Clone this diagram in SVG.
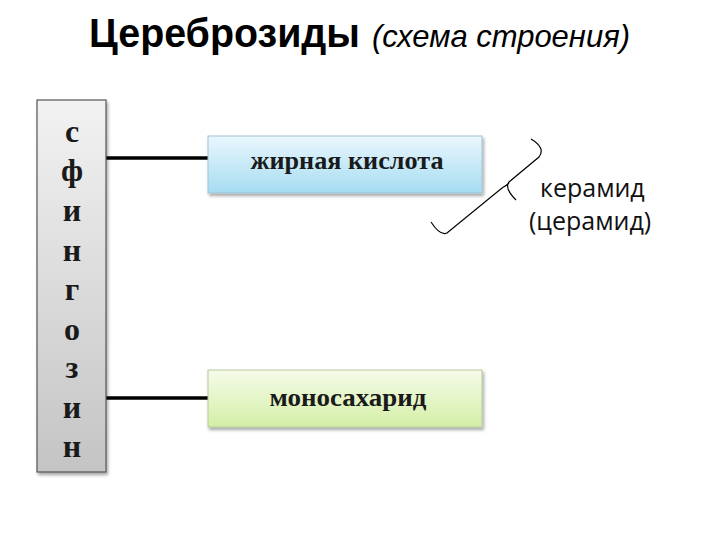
<svg xmlns="http://www.w3.org/2000/svg" width="720" height="540" viewBox="0 0 720 540">
<style>
.lbl{font-family:"Liberation Serif","DejaVu Serif",serif;font-weight:bold;fill:#1a1a1a;text-anchor:middle}
.conn{stroke:#000;stroke-width:3.5;fill:none}
.brace{stroke:#000;stroke-width:1.2;fill:none}
.side{font-family:"Open Sans","Noto Sans","Liberation Sans",sans-serif;font-size:25px;fill:#111}
</style>
<defs>
<linearGradient id="gGray" x1="0" y1="0" x2="0" y2="1"><stop offset="0" stop-color="#f2f2f2"/><stop offset="1" stop-color="#c4c4c4"/></linearGradient>
<linearGradient id="gBlue" x1="0" y1="0" x2="0" y2="1"><stop offset="0" stop-color="#eaf7fd"/><stop offset="1" stop-color="#a6dcf1"/></linearGradient>
<linearGradient id="gGreen" x1="0" y1="0" x2="0" y2="1"><stop offset="0" stop-color="#f6fbea"/><stop offset="1" stop-color="#d3efa6"/></linearGradient>
<filter id="sh" x="-10%" y="-10%" width="130%" height="130%"><feDropShadow dx="1.5" dy="2.5" stdDeviation="1.8" flood-color="#000" flood-opacity="0.35"/></filter>
</defs>
<rect width="720" height="540" fill="#fff"/>
<g id="title">
<text x="89" y="47" font-family="Liberation Sans, Arial, sans-serif" font-size="40" font-weight="bold" fill="#000" textLength="271" lengthAdjust="spacingAndGlyphs">Цереброзиды</text>
<text x="372" y="47" font-family="Liberation Sans, Arial, sans-serif" font-size="31.5" font-style="italic" fill="#000" textLength="258" lengthAdjust="spacingAndGlyphs">(схема строения)</text>
</g>
<g id="connectors">
<line class="conn" x1="106" y1="158" x2="209" y2="158"/>
<line class="conn" x1="106" y1="398" x2="209" y2="398"/>
<path class="brace" d="M531,139 Q546,148 539,157 L509,182 Q504,188 516,200 M509,183 Q506,186 502,188 L447,233 Q440,236 431,222"/>
</g>
<g id="sphingosine">
<rect x="37" y="100" width="69" height="372" fill="url(#gGray)" stroke="#555" stroke-width="1.2" filter="url(#sh)"/>
<g class="lbl" font-size="32">
<text x="72" y="142">с</text>
<text x="72" y="181">ф</text>
<text x="72" y="221">и</text>
<text x="72" y="261">н</text>
<text x="72" y="300">г</text>
<text x="72" y="340">о</text>
<text x="72" y="378">з</text>
<text x="72" y="418">и</text>
<text x="72" y="457">н</text>
</g>
</g>
<g id="fatty-acid">
<rect x="208" y="136" width="274" height="57" fill="url(#gBlue)" stroke="#9fc3d3" stroke-width="1" filter="url(#sh)"/>
<text class="lbl" x="347" y="169" font-size="26" textLength="193" lengthAdjust="spacingAndGlyphs">жирная кислота</text>
</g>
<g id="monosaccharide">
<rect x="208" y="370" width="274" height="57" fill="url(#gGreen)" stroke="#b5c99a" stroke-width="1" filter="url(#sh)"/>
<text class="lbl" x="348" y="406" font-size="26" textLength="157" lengthAdjust="spacingAndGlyphs">моносахарид</text>
</g>
<g id="ceramide">
<text class="side" x="540" y="197">керамид</text>
<text class="side" x="529" y="230">(церамид)</text>
</g>
</svg>
